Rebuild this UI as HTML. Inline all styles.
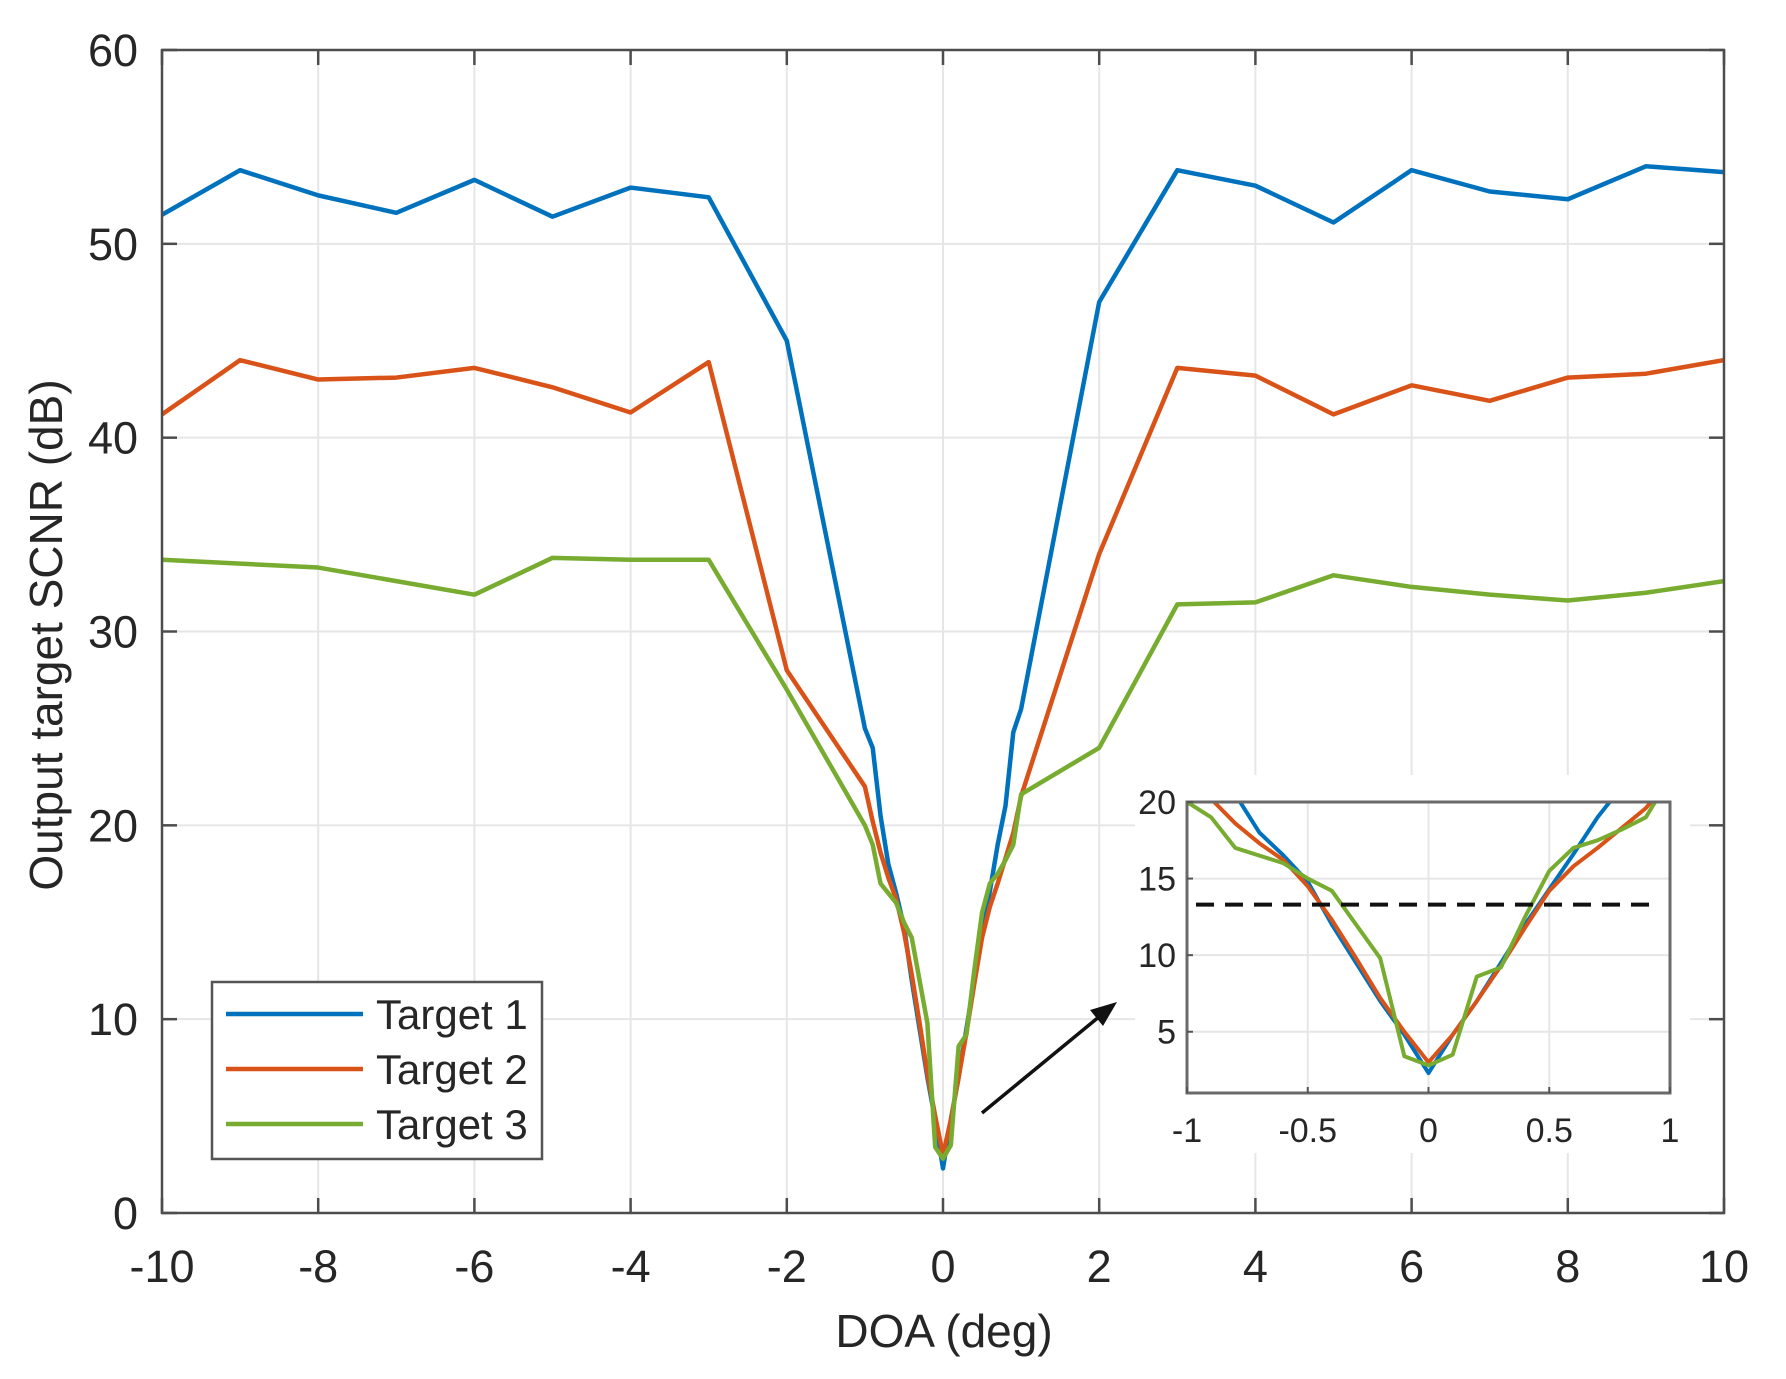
<!DOCTYPE html>
<html><head><meta charset="utf-8"><style>
html,body{margin:0;padding:0;background:#fff;}
svg{display:block;font-family:"Liberation Sans",Arial,sans-serif;}
</style></head><body>
<svg id="chart" width="1786" height="1379" viewBox="0 0 1786 1379">
<defs>
<clipPath id="mainClip"><rect x="162" y="50" width="1562" height="1163"/></clipPath>
<clipPath id="insetClip"><rect x="1187" y="802" width="483" height="291"/></clipPath>
</defs>
<g id="grid"></g>
<g id="series" clip-path="url(#mainClip)"></g>
<rect x="162" y="50" width="1562" height="1163" fill="none" stroke="#4d4d4d" stroke-width="2.5"/>
<g id="ticks"></g>
<text x="50" y="635" font-size="46" fill="#262626" text-anchor="middle" transform="rotate(-90 50 635)" dominant-baseline="middle">Output target SCNR (dB)</text>
<text x="944" y="1347" font-size="46" fill="#262626" text-anchor="middle">DOA (deg)</text>
<g>
<rect x="212" y="982" width="330" height="177" fill="#fff" stroke="#555" stroke-width="2.5"/>
<line x1="226" y1="1014" x2="363" y2="1014" stroke="#0072BD" stroke-width="4.5"/>
<text x="376" y="1029" font-size="42" fill="#262626">Target 1</text>
<line x1="226" y1="1069" x2="363" y2="1069" stroke="#D95319" stroke-width="4.5"/>
<text x="376" y="1084" font-size="42" fill="#262626">Target 2</text>
<line x1="226" y1="1124" x2="363" y2="1124" stroke="#77AC30" stroke-width="4.5"/>
<text x="376" y="1139" font-size="42" fill="#262626">Target 3</text>
</g>
<g>
<line x1="982" y1="1113" x2="1100" y2="1016" stroke="#111" stroke-width="3.5"/>
<polygon points="1117,1002 1090,1010 1103,1026" fill="#111"/>
</g>
<rect x="1135" y="775" width="555" height="378" fill="#fff"/>
<g id="igrid"></g>
<g id="iseries" clip-path="url(#insetClip)"></g>
<rect x="1187" y="802" width="483" height="291" fill="none" stroke="#6a6a6a" stroke-width="3"/>
<g id="iticks"></g>
</svg>
<script>
const doa = [-10,-9,-8,-7,-6,-5,-4,-3,-2,-1,-0.9,-0.8,-0.7,-0.6,-0.5,-0.4,-0.3,-0.2,-0.1,0,0.1,0.2,0.3,0.4,0.5,0.6,0.7,0.8,0.9,1,2,3,4,5,6,7,8,9,10];
const target1 = [51.5,53.8,52.5,51.6,53.3,51.4,52.9,52.4,45,25,24,20.5,18,16.5,14.8,12,9.5,7,4.8,2.3,4.8,7,9.5,12,14.3,16.6,19,21,24.8,26,47,53.8,53,51.1,53.8,52.7,52.3,54,53.7];
const target2 = [41.2,44,43,43.1,43.6,42.6,41.3,43.9,28,22,20.2,18.6,17.3,16.2,14.5,12.3,9.8,7.2,5,3,4.8,7,9.3,11.8,14.2,15.8,17,18.3,19.6,21.5,34,43.6,43.2,41.2,42.7,41.9,43.1,43.3,44];
const target3 = [33.7,33.5,33.3,32.6,31.9,33.8,33.7,33.7,27,20,19,17,16.5,16,15,14.2,12,9.8,3.4,2.8,3.5,8.6,9.2,12.5,15.5,17,17.5,18.2,19,21.6,24,31.4,31.5,32.9,32.3,31.9,31.6,32,32.6];
const xTicks = [-10,-8,-6,-4,-2,0,2,4,6,8,10];
const yTicks = [0,10,20,30,40,50,60];
const insetXTicks = [-1,-0.5,0,0.5,1];
const insetYTicks = [5,10,15,20];
const threshold = [13.3];

const NS='http://www.w3.org/2000/svg';
const X=d=>162+(d+10)/20*1562;
const Y=v=>1213-v/60*1163;
const IX=d=>1187+(d+1)/2*483;
const IY=v=>1093-(v-1)/19*291;
function mk(tag,attrs,parent){const e=document.createElementNS(NS,tag);for(const k in attrs)e.setAttribute(k,attrs[k]);parent.appendChild(e);return e;}
const grid=document.getElementById('grid'),ticks=document.getElementById('ticks'),series=document.getElementById('series');
const igrid=document.getElementById('igrid'),iticks=document.getElementById('iticks'),iseries=document.getElementById('iseries');
xTicks.forEach(t=>{
  let g=mk('line',{x1:X(t),x2:X(t),y1:50,y2:1213,stroke:'#e6e6e6','stroke-width':2},grid);
  
  
  mk('line',{x1:X(t),x2:X(t),y1:1213,y2:1198,stroke:'#4d4d4d','stroke-width':2.5},ticks);
  mk('line',{x1:X(t),x2:X(t),y1:50,y2:65,stroke:'#4d4d4d','stroke-width':2.5},ticks);
  let l=mk('text',{x:X(t),y:1282,'font-size':45,fill:'#262626','text-anchor':'middle'},ticks);
  l.textContent=String(t);
  
  
});
yTicks.forEach(t=>{
  let g=mk('line',{x1:162,x2:1724,y1:Y(t),y2:Y(t),stroke:'#e6e6e6','stroke-width':2},grid);
  
  
  mk('line',{x1:162,x2:177,y1:Y(t),y2:Y(t),stroke:'#4d4d4d','stroke-width':2.5},ticks);
  mk('line',{x1:1709,x2:1724,y1:Y(t),y2:Y(t),stroke:'#4d4d4d','stroke-width':2.5},ticks);
  let l=mk('text',{x:138,y:Y(t)+16,'font-size':45,fill:'#262626','text-anchor':'end'},ticks);
  l.textContent=String(t);
  
  
});
const cols=['#0072BD','#D95319','#77AC30'];
[target1,target2,target3].forEach((s,i)=>{
  let p=mk('polyline',{points:s.map((v,j)=>X(doa[j])+','+Y(v)).join(' '),fill:'none',stroke:cols[i],'stroke-width':4.5,'stroke-linejoin':'round'},series);
  
  
});
insetXTicks.forEach(t=>{
  let g=mk('line',{x1:IX(t),x2:IX(t),y1:802,y2:1093,stroke:'#e6e6e6','stroke-width':2},igrid);
  
  
  mk('line',{x1:IX(t),x2:IX(t),y1:1093,y2:1087,stroke:'#555','stroke-width':2},iticks);
  let l=mk('text',{x:IX(t),y:1142,'font-size':34,fill:'#262626','text-anchor':'middle'},iticks);
  l.textContent=String(t);
  
  
});
insetYTicks.forEach(t=>{
  let g=mk('line',{x1:1187,x2:1670,y1:IY(t),y2:IY(t),stroke:'#e6e6e6','stroke-width':2},igrid);
  
  
  mk('line',{x1:1187,x2:1193,y1:IY(t),y2:IY(t),stroke:'#555','stroke-width':2},iticks);
  let l=mk('text',{x:1176,y:IY(t)+12,'font-size':34,fill:'#262626','text-anchor':'end'},iticks);
  l.textContent=String(t);
  
  
});
[target1,target2,target3].forEach((s,i)=>{
  let p=mk('polyline',{points:s.map((v,j)=>IX(doa[j])+','+IY(v)).join(' '),fill:'none',stroke:cols[i],'stroke-width':4,'stroke-linejoin':'round'},iseries);
  
  
});
let th=mk('line',{x1:1196,x2:1658,y1:IY(threshold[0]),y2:IY(threshold[0]),stroke:'#111','stroke-width':4,'stroke-dasharray':'18 11'},iseries);


</script>
</body></html>
